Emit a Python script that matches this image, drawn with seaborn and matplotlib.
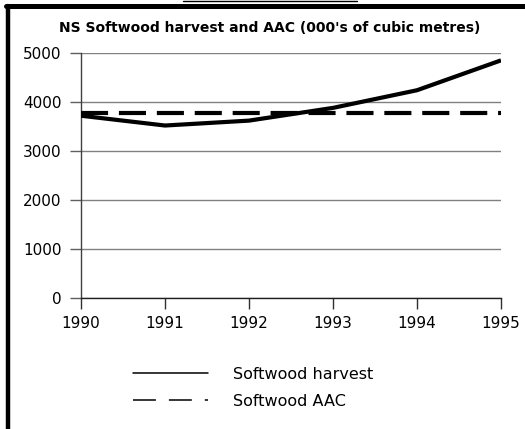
import pandas as pd
import seaborn as sns
import matplotlib.pyplot as plt
from matplotlib.lines import Line2D

# Values (000's of cubic metres)
years = [1990, 1991, 1992, 1993, 1994, 1995]
harvest = [3720, 3520, 3620, 3880, 4240, 4850]
aac = [3770, 3770, 3770, 3770, 3770, 3770]
y_ticks = [0, 1000, 2000, 3000, 4000, 5000]

df = pd.DataFrame({'year': years, 'harvest': harvest, 'aac': aac})

sns.set_style('white')
plt.rcParams['font.family'] = ['DejaVu Sans']
plt.rcParams['text.color'] = 'black'

fig = plt.figure(figsize=(5.25, 4.29), dpi=100)
ax = fig.add_axes([81 / 525, 1 - 298 / 429, 420 / 525, 245 / 429])

sns.lineplot(data=df, x='year', y='harvest', ax=ax, color='black', lw=3.0,
             solid_capstyle='butt', zorder=3)
sns.lineplot(data=df, x='year', y='aac', ax=ax, color='black', lw=3.0,
             dashes=False, zorder=3).lines[-1].set_dashes((6.5, 2.6))

ax.set_xlim(1990, 1995)
ax.set_ylim(0, 5000)
ax.set_xticks(years)
ax.set_yticks(y_ticks)
ax.set_xlabel('')
ax.set_ylabel('')
ax.yaxis.grid(True, color='#808080', lw=1.0)
ax.set_axisbelow(True)

for s in ['top', 'right']:
    ax.spines[s].set_visible(False)
ax.spines['left'].set_color('#404040')
ax.spines['bottom'].set_color('#202020')
ax.spines['left'].set_linewidth(1.0)
ax.spines['bottom'].set_linewidth(1.0)
ax.spines['left'].set_bounds(0, 5000)

ax.tick_params(axis='y', length=8, width=1, color='#606060', pad=6,
               labelsize=11, labelcolor='black', direction='out', left=True)
ax.tick_params(axis='x', length=8, width=1, color='#303030', pad=5,
               labelsize=11, labelcolor='black', direction='out', bottom=True)
ax.set_xticklabels([str(y) for y in years])

fig.text(270 / 525, 1 - 28 / 429,
         "NS Softwood harvest and AAC (000's of cubic metres)",
         ha='center', va='center', fontsize=10, fontweight='bold',
         color='black')

handles = [
    Line2D([], [], color='black', lw=1.1),
    Line2D([], [], color='black', lw=1.1, dashes=(15, 8.5)),
]
fig.legend(handles, ['Softwood harvest', 'Softwood AAC'],
           loc='upper left', bbox_to_anchor=(133 / 525, 1 - 367 / 429),
           frameon=False, fontsize=11.5, handlelength=4.7, handletextpad=1.55,
           labelspacing=0.72, borderpad=0, borderaxespad=0,
           labelcolor='black')

# frame decoration from the reference page
fig.add_artist(Line2D([8 / 525, 8 / 525], [0, 1 - 6 / 429], color='black',
                      lw=3.2, transform=fig.transFigure))
fig.add_artist(Line2D([6 / 525, 1], [1 - 6 / 429, 1 - 6 / 429], color='black',
                      lw=3.6, transform=fig.transFigure))
fig.add_artist(Line2D([183 / 525, 357 / 525], [1 - 0.5 / 429, 1 - 0.5 / 429],
                      color='black', lw=1.0, transform=fig.transFigure))

fig.savefig('out.png', dpi=100)
